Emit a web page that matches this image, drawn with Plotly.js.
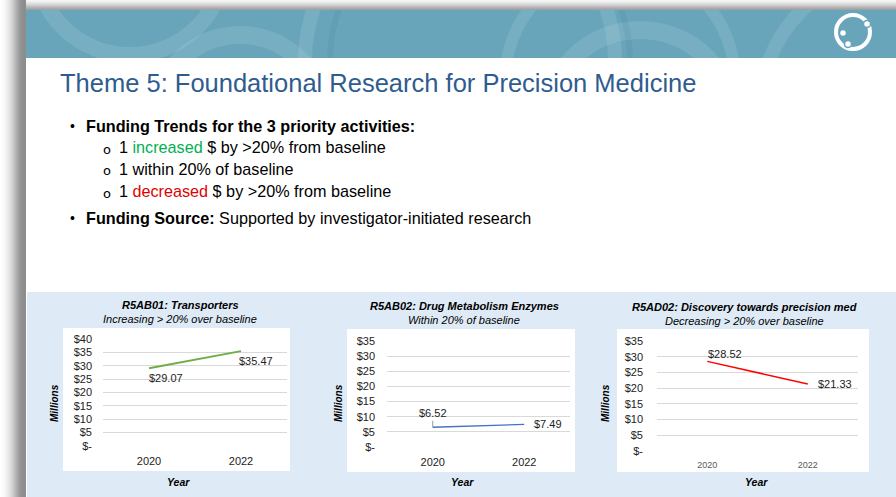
<!DOCTYPE html>
<html>
<head>
<meta charset="utf-8">
<script src="https://cdn.plot.ly/plotly-3.0.1.min.js"></script>
<style>html,body{margin:0;padding:0;background:#fff;}#chart{width:896px;height:497px;}</style>
</head>
<body>
<div id="chart"></div>
<script>
// ---- data ----
const years = ['2020', '2022'];
const transporters = [29.07, 35.47];
const enzymes = [6.52, 7.49];
const discovery = [28.52, 21.33];
const ticks40 = [0, 5, 10, 15, 20, 25, 30, 35, 40];
const ticks40Text = ['$-', '$5', '$10', '$15', '$20', '$25', '$30', '$35', '$40'];
const ticks35 = [0, 5, 10, 15, 20, 25, 30, 35];
const ticks35Text = ['$-', '$5', '$10', '$15', '$20', '$25', '$30', '$35'];
const chartTitles = ['R5AB01: Transporters', 'R5AB02: Drug Metabolism Enzymes', 'R5AD02: Discovery towards precision med'];
const chartSubtitles = ['Increasing > 20% over baseline', 'Within 20% of baseline', 'Decreasing > 20% over baseline'];

// ---- layout helpers ----
const W = 896, H = 497;
const FONT = 'Liberation Sans, Arial, sans-serif';
const px = x => x / W;
const py = y => 1 - y / H;
const fmt = v => '$' + v.toFixed(2);

const shapes = [];
function rect(x0, y0, x1, y1, color, layer) {
  shapes.push({type: 'rect', xref: 'paper', yref: 'paper', x0: px(x0), x1: px(x1), y0: py(y1), y1: py(y0),
    fillcolor: color, line: {width: 0}, layer: layer || 'below'});
}
function ring(cx, cy, r, color, w, layer) {
  shapes.push({type: 'circle', xref: 'paper', yref: 'paper', x0: px(cx - r), x1: px(cx + r), y0: py(cy + r), y1: py(cy - r),
    line: {color: color, width: w}, fillcolor: 'rgba(0,0,0,0)', layer: layer || 'below'});
}

// header band
const BAND = '#68A5BA';
rect(26, 10, 896, 58, BAND);
// decorative arcs in header
const ARC = 'rgba(255,255,255,0.10)';
ring(130, -40, 95, ARC, 16);
ring(240, 120, 85, ARC, 18);
ring(460, 60, 155, ARC, 14);
ring(480, 60, 150, 'rgba(80,140,165,0.25)', 6);
ring(640, 125, 95, ARC, 18);
ring(620, 80, 115, ARC, 12);
ring(900, 110, 140, ARC, 14);
// cover arcs overflow below band
rect(26, 58, 896, 292, '#ffffff');
// light-blue chart panel
rect(27, 292, 896, 497, '#DEEAF6');
// white chart boxes
rect(63, 328, 290, 471, '#ffffff');
rect(347, 329, 575, 472, '#ffffff');
rect(617, 329, 869, 472, '#ffffff');
// shadows: top and left
const topShades = ['#f6f6f6', '#f0f0f0', '#e8e8e8', '#e0e0e0', '#d6d6d6', '#cccccc', '#c0c0c0', '#b4b4b4', '#aaaaaa', '#a2a2a2'];
topShades.forEach((c, i) => rect(0, i, 896, i + 1, c));
const leftShades = ['#ffffff', '#fefefe', '#fcfcfc', '#fafafa', '#f7f7f7', '#f4f4f4', '#f0f0f0', '#ececec', '#e7e7e7', '#e2e2e2', '#dcdcdc', '#d6d6d6', '#cfcfcf', '#c8c8c8', '#c0c0c0', '#b8b8b8', '#b0b0b0', '#a8a8a8', '#a1a1a1', '#9b9b9b', '#969696', '#929292', '#8f8f8f', '#8d8d8d', '#8c8c8c', '#8e8e8e'];
leftShades.forEach((c, i) => rect(i, 0, i + 1, 497, c));
// logo
ring(853, 32, 17, '#ffffff', 4, 'above');
[[867, 24], [843, 33], [848, 44]].forEach(p => {
  shapes.push({type: 'circle', xref: 'paper', yref: 'paper', x0: px(p[0] - 3.5), x1: px(p[0] + 3.5), y0: py(p[1] + 3.5), y1: py(p[1] - 3.5),
    fillcolor: '#ffffff', line: {color: BAND, width: 1.5}, layer: 'above'});
});

const annotations = [];
function txt(x, y, text, opts) {
  annotations.push(Object.assign({xref: 'paper', yref: 'paper', x: px(x), y: py(y), text: text, showarrow: false,
    xanchor: 'left', yanchor: 'middle', font: {family: FONT, size: 16.2, color: '#000000'}}, opts || {}));
}
// slide title and bullets
txt(58, 83, 'Theme 5: Foundational Research for Precision Medicine', {font: {family: FONT, size: 25.5, color: '#2F5C8E'}});
txt(68, 126, '•', {font: {family: FONT, size: 14, color: '#000'}});
txt(84, 126, '<b>Funding Trends for the 3 priority activities:</b>');
const subLines = [
  '1 <span style="color:#00B050">increased</span> $ by >20% from baseline',
  '1 within 20% of baseline',
  '1 <span style="color:#E00000">decreased</span> $ by >20% from baseline'
];
subLines.forEach((s, i) => {
  txt(101, 149 + 22 * i, 'o', {font: {family: 'DejaVu Sans, sans-serif', size: 13, color: '#000'}});
  txt(117, 147 + 22 * i, s);
});
txt(68, 218, '•', {font: {family: FONT, size: 14, color: '#000'}});
txt(84, 218, '<b>Funding Source:</b> Supported by investigator-initiated research');

// chart titles / axis titles
const centers = [180, 464, 744];
const titleY = [305, 306, 307];
const millionsX = [54, 338, 605];
const yearX = [178, 462, 756];
const millionsY = [403, 403, 403];
for (let i = 0; i < 3; i++) {
  txt(centers[i], titleY[i], '<b><i>' + chartTitles[i] + '</i></b>', {xanchor: 'center', font: {family: FONT, size: 11, color: '#000'}});
  txt(centers[i], titleY[i] + 14, '<i>' + chartSubtitles[i] + '</i>', {xanchor: 'center', font: {family: FONT, size: 11, color: '#000'}});
  txt(millionsX[i], millionsY[i], '<b><i>Millions</i></b>', {xanchor: 'center', textangle: -90, font: {family: FONT, size: 10, color: '#000'}});
  txt(yearX[i], 482, '<b><i>Year</i></b>', {xanchor: 'center', font: {family: FONT, size: 10.5, color: '#000'}});
}

// data labels
const lblFont = {family: FONT, size: 11, color: '#222'};
annotations.push({xref: 'x', yref: 'y', x: 0, y: transporters[0], text: fmt(transporters[0]), showarrow: false, xanchor: 'left', yanchor: 'top', xshift: -2, yshift: -2, font: lblFont});
annotations.push({xref: 'x', yref: 'y', x: 1, y: transporters[1], text: fmt(transporters[1]), showarrow: false, xanchor: 'left', yanchor: 'top', xshift: -4, yshift: -2, font: lblFont});
annotations.push({xref: 'x2', yref: 'y2', x: 0, y: enzymes[0], text: fmt(enzymes[0]), showarrow: true, arrowhead: 0, arrowwidth: 0.8, arrowcolor: '#7f7f7f', ax: 0, ay: -14, standoff: 0, font: lblFont});
annotations.push({xref: 'x2', yref: 'y2', x: 1, y: enzymes[1], text: fmt(enzymes[1]), showarrow: false, xanchor: 'left', yanchor: 'middle', xshift: 8, yshift: 0, font: lblFont});
annotations.push({xref: 'x3', yref: 'y3', x: 0, y: discovery[0], text: fmt(discovery[0]), showarrow: false, xanchor: 'left', yanchor: 'bottom', xshift: -1, yshift: -1, font: lblFont});
annotations.push({xref: 'x3', yref: 'y3', x: 1, y: discovery[1], text: fmt(discovery[1]), showarrow: false, xanchor: 'left', yanchor: 'middle', xshift: 8, yshift: 0, font: lblFont});

const traces = [
  {x: years, y: transporters, xaxis: 'x', yaxis: 'y', type: 'scatter', mode: 'lines', line: {color: '#70AD47', width: 2}, hoverinfo: 'skip'},
  {x: years, y: enzymes, xaxis: 'x2', yaxis: 'y2', type: 'scatter', mode: 'lines', line: {color: '#4472C4', width: 1.3}, hoverinfo: 'skip'},
  {x: years, y: discovery, xaxis: 'x3', yaxis: 'y3', type: 'scatter', mode: 'lines', line: {color: '#FF0000', width: 1.5}, hoverinfo: 'skip'}
];

function xax(d0, d1, anchor, size, color) {
  return {domain: [px(d0), px(d1)], anchor: anchor, type: 'category', categoryorder: 'array', categoryarray: years,
    range: [-0.5, 1.5], showgrid: false, zeroline: false, showline: false, ticks: '', ticklabelstandoff: 7,
    tickfont: {family: FONT, size: size, color: color}, fixedrange: true};
}
function yax(top, bottom, anchor, vals, text, standoff) {
  return {domain: [py(bottom), py(top)], anchor: anchor, range: [0, vals[vals.length - 1]], tickmode: 'array', tickvals: vals, ticktext: text,
    showgrid: true, gridcolor: '#D9D9D9', gridwidth: 1, zeroline: false, showline: false, ticks: '', ticklabelstandoff: standoff,
    tickfont: {family: FONT, size: 11, color: '#222'}, fixedrange: true};
}

const layout = {
  width: W, height: H, margin: {l: 0, r: 0, t: 0, b: 0}, paper_bgcolor: '#ffffff', plot_bgcolor: 'rgba(0,0,0,0)', showlegend: false,
  xaxis: xax(103, 287, 'y', 11, '#222'),
  yaxis: yax(339, 446, 'x', ticks40, ticks40Text, 10),
  xaxis2: xax(387, 570, 'y2', 11, '#222'),
  yaxis2: yax(341, 447, 'x2', ticks35, ticks35Text, 11),
  xaxis3: xax(657, 858, 'y3', 9, '#595959'),
  yaxis3: yax(341, 451, 'x3', ticks35, ticks35Text, 13),
  shapes: shapes, annotations: annotations
};
Plotly.newPlot('chart', traces, layout, {displayModeBar: false, staticPlot: true});
</script>
</body>
</html>
